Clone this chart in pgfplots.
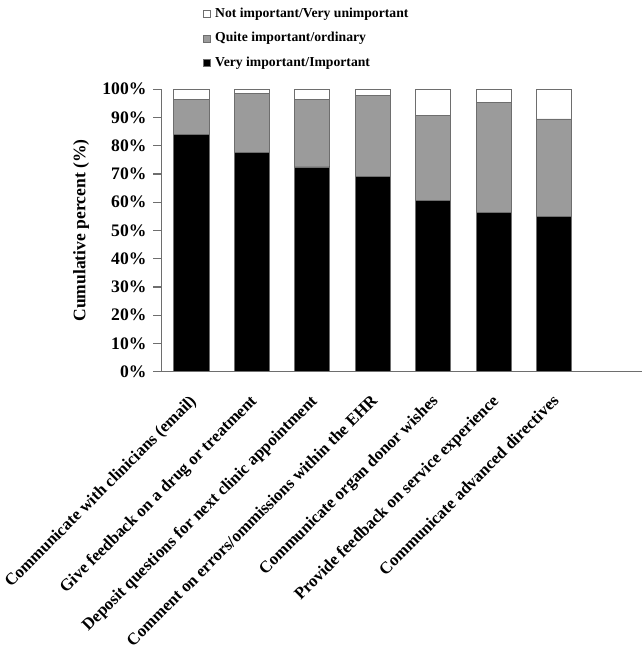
\documentclass[border=0pt]{standalone}
\usepackage{fontspec}
\setmainfont{Liberation Serif}
\usepackage{pgfplots}
\usepackage{pgfplotstable}
\pgfplotsset{compat=1.18}

% cumulative shares, per item (percent)
\pgfplotstableread{
x very quite not
0 84.0 12.5 3.5
1 77.5 21.0 1.5
2 72.5 24.0 3.5
3 69.0 28.7 2.3
4 60.5 30.3 9.2
5 56.5 38.9 4.6
6 55.0 34.5 10.5
}\ratings

\definecolor{midgrey}{RGB}{155,155,155}
\definecolor{edgegrey}{RGB}{110,110,110}

\begin{document}
\begin{tikzpicture}
\begin{axis}[
    ybar stacked,
    bar width=0.58,
    width=246pt, height=144.5pt, scale only axis,
    xmin=-0.5, xmax=7.45,
    ymin=0, ymax=100,
    axis x line*=bottom, axis y line*=left,
    axis line style={draw=edgegrey, line width=0.6pt},
    xtick={0,...,6},
    xticklabels={Communicate with clinicians (email),
        Give feedback on a drug or treatment,
        Deposit questions for next clinic appointment,
        Comment on errors/ommissions within the EHR,
        Communicate organ donor wishes,
        Provide feedback on service experience,
        Communicate advanced directives},
    x tick label style={rotate=45, anchor=north east, inner sep=1pt,
        yshift=-3pt, xshift=-5pt,
        font=\bfseries\fontsize{8.6}{9}\selectfont},
    xtick style={draw=none},
    ytick={0,10,...,100},
    yticklabel={\pgfmathprintnumber{\tick}\%},
    /pgf/number format/assume math mode=true,
    y tick label style={font=\bfseries\fontsize{9}{10}\selectfont},
    ytick style={draw=edgegrey, line width=0.6pt},
    tick align=outside,
    major tick length=4pt,
    ylabel={Cumulative percent (\%)},
    ylabel style={font=\bfseries\fontsize{9}{10}\selectfont},
    reverse legend,
    legend cell align=left,
    legend style={draw=none, at={(0.075,1)}, anchor=south west, yshift=6pt,
        font=\bfseries\fontsize{7}{8}\selectfont, row sep=2.2pt},
    legend image code/.code={\draw[#1] (0pt,-1.8pt) rectangle (3.6pt,1.8pt);},
]
\addplot[fill=black, draw=edgegrey] table[x=x, y=very] {\ratings};
\addplot[fill=midgrey, draw=edgegrey] table[x=x, y=quite] {\ratings};
\addplot[fill=white, draw=edgegrey] table[x=x, y=not] {\ratings};
\legend{Very important/Important, Quite important/ordinary, Not important/Very unimportant}
\end{axis}
\end{tikzpicture}
\end{document}
